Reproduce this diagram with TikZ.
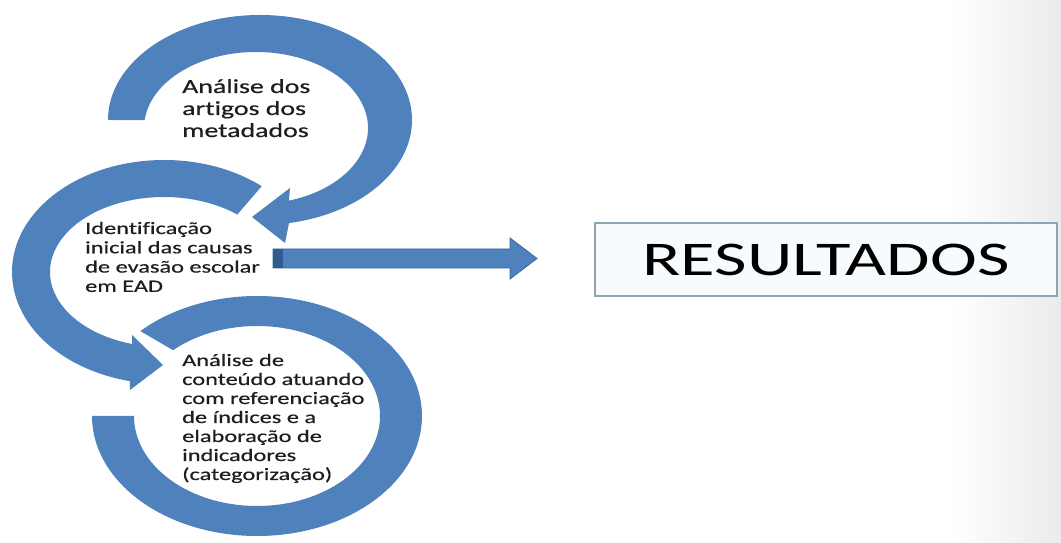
\documentclass[tikz,border=0pt]{standalone}
\usepackage{fontspec}
\newfontfamily\calib[FakeStretch=1.4, FakeBold=0.5, Ligatures=NoCommon]{Carlito}
\newfontfamily\calibbig[FakeStretch=1.46, Ligatures=NoCommon]{Carlito}
\usetikzlibrary{calc}
\definecolor{ringblue}{HTML}{4F81BD}
\definecolor{arrowedge}{HTML}{3B6597}
\definecolor{arrowdark}{HTML}{2F5B91}
\definecolor{boxedge}{HTML}{8FA5B1}
\definecolor{boxfill}{HTML}{F8FBFD}
\definecolor{txt}{HTML}{1E1E1E}
\begin{document}
\begin{tikzpicture}[x=1pt,y=1pt,
  ring/.style={fill=ringblue},
  lbl/.style={anchor=base west, inner sep=0pt, text=txt},
  midfont/.style={font=\calib\fontsize{17.4}{19.3}\selectfont}]
\useasboundingbox (0,0) rectangle (1061,543);
\fill[white] (0,0) rectangle (1061,543);
\shade[left color=white, right color=black!8] (950,0) rectangle (1061,543);

% ring centres
\coordinate (ctopO) at (260,423);
\coordinate (ctopI) at (256,415);
\coordinate (cmid) at (164,271);
\coordinate (cbot) at (257,127);

% bottom ring (no head)
\fill[ring] ($(cbot)+(135:165 and 120)$)
  arc[start angle=135, end angle=-180, x radius=165, y radius=120]
  -- ($(cbot)+(-180:123 and 90)$)
  arc[start angle=-180, end angle=133, x radius=123, y radius=90] -- cycle;

% middle ring with head
\fill[ring] ($(cmid)+(50:152 and 112)$)
  arc[start angle=50, end angle=257, x radius=152, y radius=112]
  -- (130,153) -- (163,178) -- (132,208)
  -- ($(cmid)+(253.7:114 and 75)$)
  arc[start angle=253.7, end angle=50, x radius=114, y radius=75] -- cycle;

% top ring with head
\fill[ring] ($(ctopO)+(180:152 and 105)$)
  arc[start angle=180, end angle=-79, x radius=152, y radius=105]
  -- (285,300) -- (252,326) -- (290,355)
  -- ($(ctopI)+(-72.9:112 and 76)$)
  arc[start angle=-72.9, end angle=174, x radius=112, y radius=76] -- cycle;

% result box
\node[draw=boxedge, fill=boxfill, line width=1.3pt, minimum width=462pt,
  minimum height=73pt, inner sep=0pt, text=black,
  font=\calibbig\fontsize{48.4}{50}\selectfont] (res) at (826,283.5) {RESULTADOS};

% block arrow
\coordinate (arrS) at (273,284.5);
\coordinate (arrE) at (537,284.5);
\filldraw[fill=ringblue, draw=arrowedge, line width=0.8pt, line join=miter]
  ($(arrS)+(0,9.5)$) -- ($(arrE)+(-27,9.5)$) -- ($(arrE)+(-27,20.5)$) -- (arrE)
  -- ($(arrE)+(-27,-20.5)$) -- ($(arrE)+(-27,-9.5)$) -- ($(arrS)+(0,-9.5)$) -- cycle;
\fill[arrowdark] ($(arrS)+(0.4,-9.1)$) rectangle ($(arrS)+(10,9.1)$);

% labels
\node[lbl, font=\calib\fontsize{19.9}{22}\selectfont] (t1) at (182,450)
  {\vtop{\baselineskip=22pt\hbox{Análise dos}\hbox{artigos dos}\hbox{metadados}}};
\node[lbl, midfont] (t2) at (85,309)
  {\vtop{\baselineskip=19.3pt\hbox{Identificação}\hbox{inicial das causas}\hbox{de evasão escolar}\hbox{em EAD}}};
\node[lbl, midfont] (t3) at (182,177)
  {\vtop{\baselineskip=19pt\hbox{Análise de}\hbox{conteúdo atuando}\hbox{com referenciação}\hbox{de índices e a}\hbox{elaboração de}\hbox{indicadores}\hbox{(categorização)}}};
\end{tikzpicture}
\end{document}
